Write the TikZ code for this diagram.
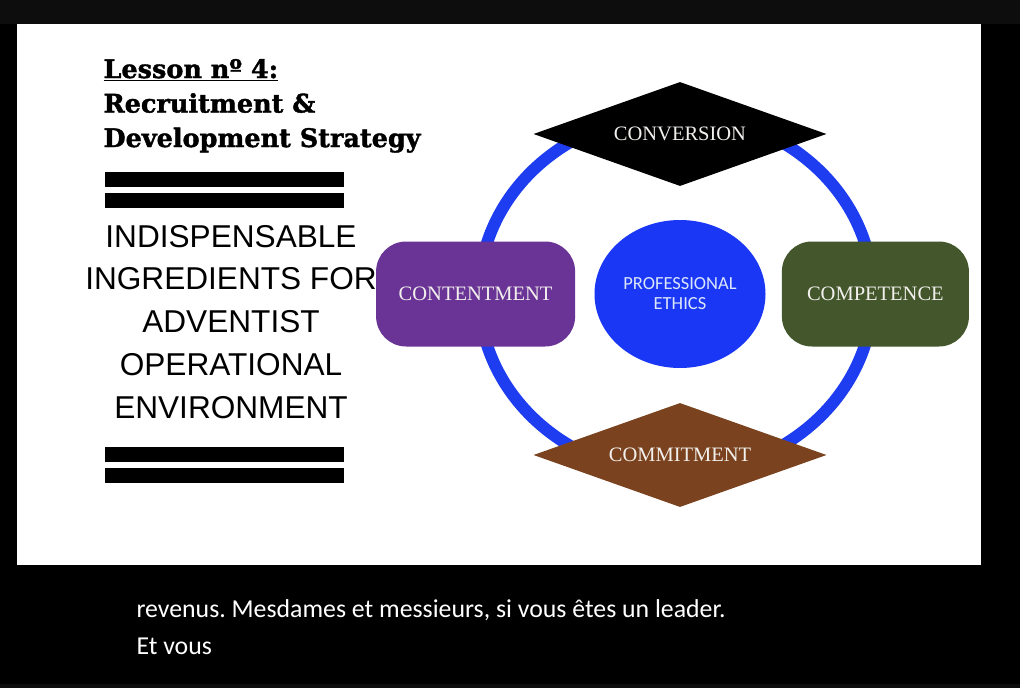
\documentclass[tikz,border=0pt]{standalone}
\usepackage{fontspec}
\usepackage{tikz}
\usetikzlibrary{positioning,shapes.geometric}
\newfontfamily\slabfont{DejaVu Serif}[BoldFeatures={FakeBold=1.6}]
\newfontfamily\capsfont{Liberation Serif}
\newfontfamily\gothfont{Liberation Sans}
\newfontfamily\subfont{Carlito}
\definecolor{topband}{RGB}{13,13,13}
\definecolor{ringblue}{RGB}{30,60,240}
\definecolor{ethicsblue}{RGB}{25,55,245}
\definecolor{ethicstext}{RGB}{220,230,250}
\definecolor{contentpurple}{RGB}{106,52,150}
\definecolor{competgreen}{RGB}{67,86,44}
\definecolor{commitbrown}{RGB}{122,66,30}
\definecolor{labelwhite}{RGB}{242,240,236}
\frenchspacing

\begin{document}
\begin{tikzpicture}[x=1pt,y=-1pt,
  lbl/.style={text=labelwhite, font=\capsfont\fontsize{20.5}{24}\selectfont},
  gem/.style={diamond, aspect=2.8, minimum width=293pt, minimum height=104pt, inner sep=0pt, lbl},
  pill/.style={rectangle, rounded corners=30pt, minimum height=105pt, inner sep=0pt, lbl}]
  \useasboundingbox (0,0) rectangle (1020,688);
  \fill[black] (0,0) rectangle (1020,688);
  \fill[topband] (0,0) rectangle (1020,24);
  \fill[topband] (0,684) rectangle (1020,688);
  \fill[white] (17,24) rectangle (981,565);

  % left column (base = last line)
  \node[anchor=base west, align=left, font=\slabfont\bfseries\fontsize{25.5}{34.5}\selectfont] (lesson) at (100,147) {\underline{Lesson nº 4:}\\Recruitment \&\\Development Strategy};
  \foreach \y in {172,193,447,468}
    \fill (105,\y) rectangle (344,\y+15);
  \node[anchor=base, align=center, font=\gothfont\fontsize{31.6}{42.75}\selectfont] (topic) at (231,418) {INDISPENSABLE\\INGREDIENTS FOR\\ADVENTIST\\OPERATIONAL\\ENVIRONMENT};

  % the ring and its four ingredients
  \draw[ringblue, line width=12pt] (676,294) ellipse [x radius=197pt, y radius=180pt];
  \node[ellipse, fill=ethicsblue, minimum width=171pt, minimum height=148pt, inner sep=0pt, align=center, text=ethicstext, font=\subfont\fontsize{18.5}{20}\selectfont] (ethics) at (680,294) {PROFESSIONAL\\ETHICS};
  \node[pill, fill=contentpurple, minimum width=199pt, left=19pt of ethics] (content) {CONTENTMENT};
  \node[pill, fill=competgreen, minimum width=187pt, right=16pt of ethics] (compet) {COMPETENCE};
  \node[gem, fill=black] (conv) at (680,134) {CONVERSION};
  \node[gem, fill=commitbrown] (commit) at (680,455) {COMMITMENT};

  % subtitle
  \node[anchor=base west, align=left, text=white, font=\subfont\fontsize{25.8}{36.5}\selectfont] (caption) at (133,654) {revenus. Mesdames et messieurs, si vous êtes un leader.\\Et vous};
\end{tikzpicture}
\end{document}
